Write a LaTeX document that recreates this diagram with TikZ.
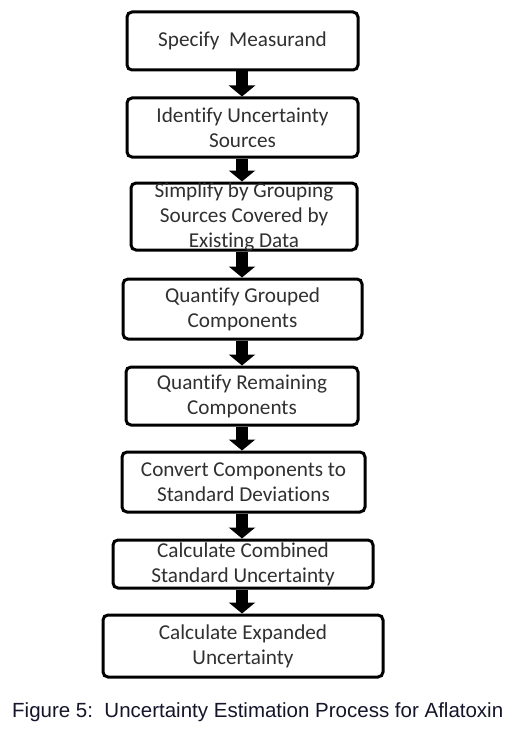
\documentclass[tikz,border=0pt]{standalone}
\usepackage{fontspec}
\setmainfont[Ligatures=NoCommon]{Carlito}
\newfontfamily\capfont{Liberation Sans}
\usetikzlibrary{arrows.meta}
\definecolor{txt}{HTML}{303030}
\definecolor{captxt}{HTML}{15152A}
\begin{document}
\begin{tikzpicture}[x=1pt,y=-1pt,
  box/.style={draw=black, line width=3pt, rounded corners=5pt, inner sep=0pt},
  lbl/.style={align=center, inner sep=0pt, text=txt, font=\fontsize{21.2}{25}\selectfont},
  flow/.style={line width=12pt, -{Triangle[width=26pt,length=11pt]}}]
\useasboundingbox (0,0) rectangle (513,733);
\node[box, minimum width=231pt, minimum height=58pt] (b1) at (242.5,41) {};
\node[box, minimum width=231pt, minimum height=59pt] (b2) at (242.5,127.5) {};
\node[box, minimum width=226pt, minimum height=67pt] (b3) at (244,216.5) {};
\node[box, minimum width=239pt, minimum height=60pt] (b4) at (242.5,309) {};
\node[box, minimum width=232pt, minimum height=58pt] (b5) at (242,396) {};
\node[box, minimum width=243pt, minimum height=60pt] (b6) at (243.5,482) {};
\node[box, minimum width=260pt, minimum height=48pt] (b7) at (243,564) {};
\node[box, minimum width=280pt, minimum height=62pt] (b8) at (243,646) {};
\node[lbl] (t1) at (b1) {Specify\ \ Measurand};
\node[lbl] (t2) at (b2) {Identify Uncertainty\\Sources};
\node[lbl] (t3) at (b3) {Simplify by Grouping\\Sources Covered by\\Existing Data};
\node[lbl] (t4) at (b4) {Quantify Grouped\\Components};
\node[lbl] (t5) at (b5) {Quantify Remaining\\Components};
\node[lbl] (t6) at (b6) {Convert Components to\\Standard Deviations};
\node[lbl] (t7) at (b7) {Calculate Combined\\Standard\ Uncertainty};
\node[lbl] (t8) at (b8) {Calculate Expanded\\Uncertainty};
\foreach \a/\b in {b1/b2,b2/b3,b3/b4,b4/b5,b5/b6,b6/b7,b7/b8}
  \draw[flow] (\a.south -| 242,0) -- (\b.north -| 242,0);
\node[anchor=base west, inner sep=0pt, text=captxt, font=\capfont\fontsize{20.5}{24}\selectfont] (cap) at (12,717) {Figure 5:\ \ Uncertainty Estimation Process for Aflatoxin};
\end{tikzpicture}
\end{document}
